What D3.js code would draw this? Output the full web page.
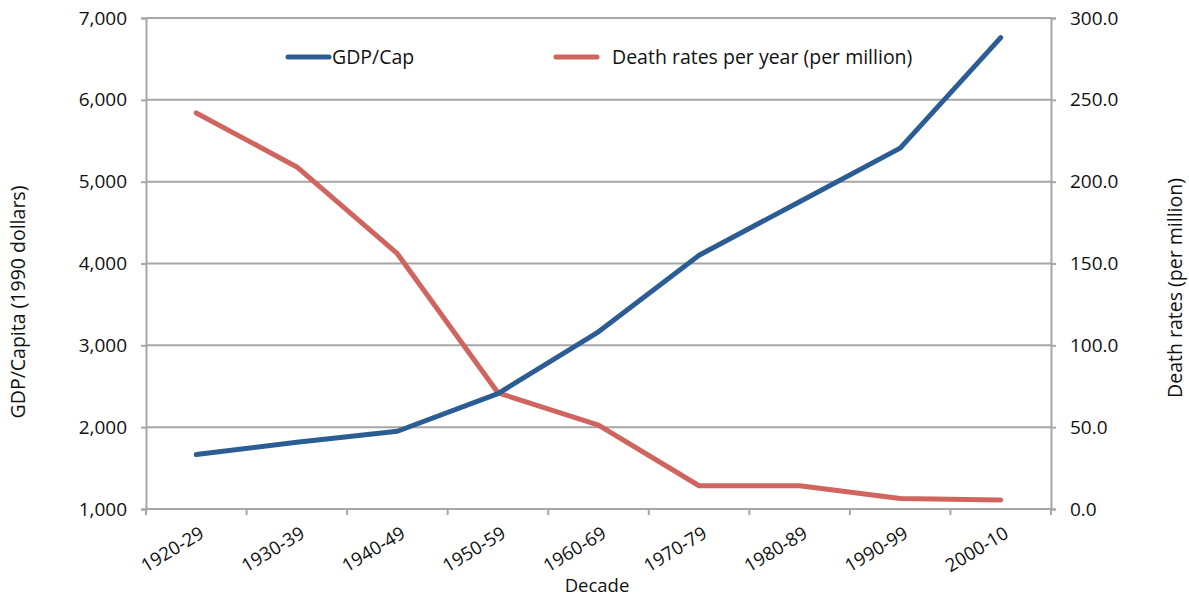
<!DOCTYPE html>
<html>
<head>
<meta charset="utf-8">
<script src="https://cdn.jsdelivr.net/npm/d3@7"></script>
<style>
  body { margin: 0; background: #fff; }
  svg text { font-family: "Open Sans", "DejaVu Sans", sans-serif; fill: #111; }
</style>
</head>
<body>
<div id="chart"></div>
<script>
// decades on the x axis
var decades = ["1920-29", "1930-39", "1940-49", "1950-59", "1960-69", "1970-79", "1980-89", "1990-99", "2000-10"];
// GDP per capita, 1990 dollars (left axis)
var gdpPerCap = [1665, 1815, 1950, 2410, 3165, 4100, 4755, 5410, 6760];
// death rates per year, per million (right axis)
var deathRates = [242, 209, 156, 71, 51.3, 14.2, 14.2, 6.4, 5.5];
var leftTicks = [1000, 2000, 3000, 4000, 5000, 6000, 7000];
var rightTicks = [0, 50, 100, 150, 200, 250, 300];

var W = 1189, H = 598;
var margin = {top: 18, right: 138, bottom: 89, left: 146};
var width = W - margin.left - margin.right,
    height = H - margin.top - margin.bottom;

var svg = d3.select("#chart").append("svg")
    .attr("width", W).attr("height", H);

var g = svg.append("g")
    .attr("transform", "translate(" + margin.left + "," + margin.top + ")");

var x = d3.scaleBand().domain(decades).range([0, width]);
var yL = d3.scaleLinear().domain([1000, 7000]).range([height, 0]);
var yR = d3.scaleLinear().domain([0, 300]).range([height, 0]);

var gridColor = "#a6a6a6";

// gridlines
g.append("g").selectAll("line")
  .data(leftTicks.slice(1))
  .enter().append("line")
  .attr("x1", 0).attr("x2", width)
  .attr("y1", function(d) { return yL(d); })
  .attr("y2", function(d) { return yL(d); })
  .attr("stroke", gridColor).attr("stroke-width", 2);

// left axis
var axL = g.append("g")
  .call(d3.axisLeft(yL).tickValues(leftTicks).tickFormat(d3.format(",")).tickSize(5).tickPadding(14));
// right axis
var axR = g.append("g")
  .attr("transform", "translate(" + width + ",0)")
  .call(d3.axisRight(yR).tickValues(rightTicks).tickFormat(d3.format(".1f")).tickSize(5).tickPadding(14));
// bottom axis, ticks at band edges
var edges = decades.map(function(d) { return x(d); }).concat([width]);
var axB = g.append("g")
  .attr("transform", "translate(0," + height + ")");
axB.append("line").attr("x1", 0).attr("x2", width)
  .attr("stroke", gridColor).attr("stroke-width", 2);
axB.selectAll("line.tk").data(edges).enter().append("line")
  .attr("class", "tk")
  .attr("x1", function(d) { return d; }).attr("x2", function(d) { return d; })
  .attr("y1", 0).attr("y2", 6)
  .attr("stroke", gridColor).attr("stroke-width", 2);
axB.selectAll("text").data(decades).enter().append("text")
  .attr("transform", function(d) {
    return "translate(" + (x(d) + x.bandwidth() / 2 + 2) + ",16) rotate(-31)";
  })
  .attr("text-anchor", "end")
  .attr("dy", "0.75em")
  .style("font-size", "18.5px")
  .text(function(d) { return d; });

[axL, axR].forEach(function(a) {
  a.select(".domain").attr("stroke", gridColor).attr("stroke-width", 2);
  a.selectAll(".tick line").attr("stroke", gridColor).attr("stroke-width", 2);
  a.selectAll(".tick text").style("font-size", "19px").attr("fill", "#111");
});

// lines
var cx = function(d, i) { return x(decades[i]) + x.bandwidth() / 2; };
var blue = "#2b5c93", red = "#d0655f";

g.append("path")
  .datum(deathRates)
  .attr("fill", "none").attr("stroke", red).attr("stroke-width", 5)
  .attr("stroke-linejoin", "round").attr("stroke-linecap", "round")
  .attr("d", d3.line().x(cx).y(function(d) { return yR(d); }));

g.append("path")
  .datum(gdpPerCap)
  .attr("fill", "none").attr("stroke", blue).attr("stroke-width", 5)
  .attr("stroke-linejoin", "round").attr("stroke-linecap", "round")
  .attr("d", d3.line().x(cx).y(function(d) { return yL(d); }));

// legend
var legend = [
  {label: "GDP/Cap", color: blue, x: 288, tx: 44},
  {label: "Death rates per year (per million)", color: red, x: 556, tx: 56}
];
var lg = svg.selectAll("g.legend").data(legend).enter().append("g")
  .attr("class", "legend")
  .attr("transform", function(d) { return "translate(" + d.x + ",57)"; });
lg.append("line").attr("x1", 0).attr("x2", 41)
  .attr("stroke", function(d) { return d.color; })
  .attr("stroke-width", 5).attr("stroke-linecap", "round");
lg.append("text").attr("x", function(d) { return d.tx; }).attr("dy", "0.35em")
  .style("font-size", "19.5px")
  .text(function(d) { return d.label; });

// axis titles
svg.append("text")
  .attr("transform", "translate(25,302) rotate(-90)")
  .attr("text-anchor", "middle").style("font-size", "19.5px")
  .text("GDP/Capita (1990 dollars)");
svg.append("text")
  .attr("transform", "translate(1182,288) rotate(-90)")
  .attr("text-anchor", "middle").style("font-size", "19.5px")
  .text("Death rates (per million)");
svg.append("text")
  .attr("x", 597).attr("y", 592)
  .attr("text-anchor", "middle").style("font-size", "18.5px")
  .text("Decade");
</script>
</body>
</html>
